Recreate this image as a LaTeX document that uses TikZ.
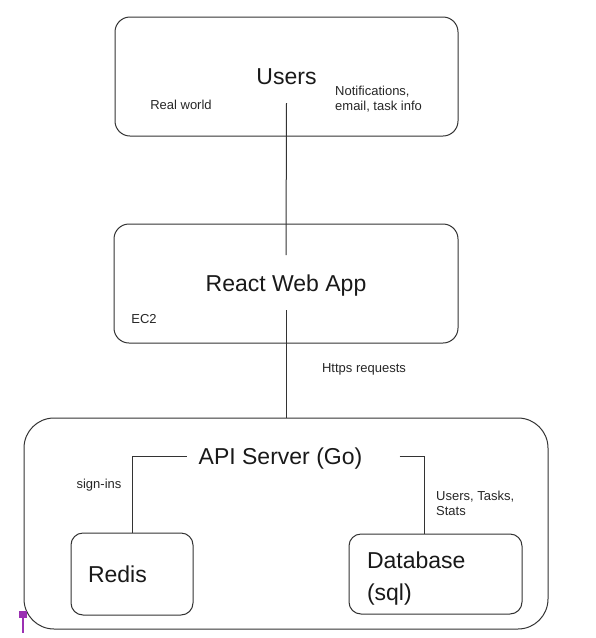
\documentclass[tikz,border=0pt]{standalone}
\usepackage{fontspec}
\setmainfont{Liberation Sans}
\definecolor{markpurple}{RGB}{155,48,178}
\begin{document}
\begin{tikzpicture}[x=1pt,y=-1pt,
	box/.style={draw=black!80,line width=1pt,rounded corners=15pt,inner sep=0pt},
	bigfont/.style={font=\fontsize{23}{32}\selectfont,text=black!90},
	big/.style={bigfont,text height=16.5pt,text depth=0pt,inner xsep=1pt,inner ysep=0pt},
	small/.style={font=\fontsize{13}{15}\selectfont,inner sep=0pt,text=black!85},
	link/.style={draw=black!80,line width=1pt}]
	\useasboundingbox (0,0) rectangle (596,638);
	% tiers
	\node[box,big,minimum width=343pt,minimum height=119pt] (users) at (286.5,76.5) {Users};
	\node[box,big,minimum width=344pt,minimum height=119pt] (react) at (286,283.5) {React Web App};
	\node[box,rounded corners=30pt,minimum width=524pt,minimum height=211pt] (api) at (286,523.5) {};
	\node[big] (apiTxt) at (280.5,456) {API Server (Go)};
	% stores
	\node[box,big,rounded corners=12pt,minimum width=122pt,minimum height=82pt,
		text width=88pt,align=left,inner xsep=17pt] (redis) at (132,574) {Redis};
	\node[box,bigfont,rounded corners=12pt,minimum width=173pt,minimum height=80pt,
		text width=137pt,align=left,inner xsep=18pt,inner ysep=0pt] (db) at (435.5,574) {\rule{0pt}{26.5pt}Database\\(sql)};
	% labels
	\node[small] (realworld) at (181,105) {Real world};
	\node[small,anchor=west,align=left] (notif) at (335,99) {Notifications,\\email, task info};
	\node[small] (ec2) at (144,319) {EC2};
	\node[small] (https) at (364,369) {Https requests};
	\node[small] (signins) at (99,485) {sign-ins};
	\node[small,anchor=west,align=left] (tables) at (436,503) {Users, Tasks,\\Stats};
	% links
	\draw[link] ([yshift=-26.5pt]users.center) -- ([yshift=28.5pt]react.center);
	\draw[link] ([yshift=-26.5pt]react.center) -- (api.north);
	\draw[link] ([xshift=-11pt]apiTxt.west) -| (redis.north);
	\draw[link] ([xshift=36pt]apiTxt.east) -| ([xshift=-11.5pt]db.north);
	% mark
	\fill[markpurple] (19,611) rectangle (27,618);
	\draw[markpurple,line width=1.2pt] (23,618) -- (23,633);
\end{tikzpicture}
\end{document}
